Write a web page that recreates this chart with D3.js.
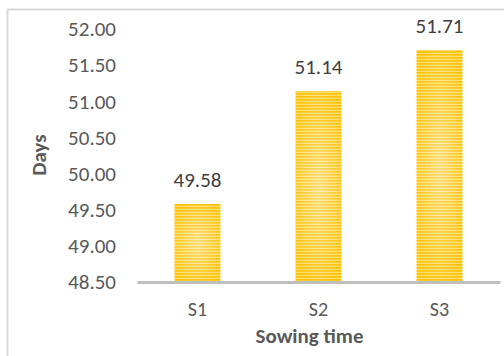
<!DOCTYPE html>
<html><head><meta charset="utf-8">
<script src="https://cdn.jsdelivr.net/npm/d3@7"></script>
<style>
html,body{margin:0;padding:0;background:#fff;}
svg{display:block;font-family:Carlito,Calibri,Lato,sans-serif;}
</style></head>
<body>
<script>
const categories = ["S1","S2","S3"];
const values = [49.58, 51.14, 51.71];
const yTicks = [48.5, 49.0, 49.5, 50.0, 50.5, 51.0, 51.5, 52.0];
const xTitle = "Sowing time";
const yTitle = "Days";

(function(){
const W = 504, H = 356;
const svg = d3.select("body").append("svg").attr("width", W).attr("height", H);

// outer border
svg.append("rect").attr("x",7.5).attr("y",9.5).attr("width",510).attr("height",360)
  .attr("fill","none").attr("stroke","#D9D9D9").attr("stroke-width",2);

const defs = svg.append("defs");
const pat = defs.append("pattern").attr("id","stripes").attr("patternUnits","userSpaceOnUse")
  .attr("width",8).attr("height",3);
pat.append("rect").attr("width",8).attr("height",3).attr("fill","#FFDE70");
pat.append("rect").attr("width",8).attr("height",1.7).attr("fill","#FFC000");
const rg = defs.append("radialGradient").attr("id","glow").attr("cx","50%").attr("cy","50%").attr("r","60%");
rg.append("stop").attr("offset","0%").attr("stop-color","#fff").attr("stop-opacity",0.45);
rg.append("stop").attr("offset","100%").attr("stop-color","#fff").attr("stop-opacity",0);

const mL = 137, mR = 500, mT = 29, mB = 282;
const x = d3.scaleBand().domain(categories).range([mL,mR]).paddingInner(0.62).paddingOuter(0.31);
const y = d3.scaleLinear().domain([48.5,52]).range([mB, mT]);

const FF = "Carlito,Calibri,Lato,sans-serif";
// y axis labels
const yAxis = d3.axisLeft(y).tickValues(yTicks).tickFormat(d3.format(".2f")).tickSize(0).tickPadding(0);
const ya = svg.append("g").attr("transform",`translate(116,0)`).call(yAxis);
ya.select(".domain").remove();
ya.selectAll("text").attr("font-size",21).attr("fill","#595959").attr("font-family",FF);

// bars
const bars = svg.append("g");
bars.selectAll("rect.bar").data(values).join("rect").attr("class","bar")
  .attr("x",(d,i)=>x(categories[i])).attr("y",d=>y(d))
  .attr("width",x.bandwidth()).attr("height",d=>mB - y(d))
  .attr("fill","url(#stripes)");
bars.selectAll("rect.glow").data(values).join("rect").attr("class","glow")
  .attr("x",(d,i)=>x(categories[i])).attr("y",d=>y(d))
  .attr("width",x.bandwidth()).attr("height",d=>mB - y(d))
  .attr("fill","url(#glow)");

// x axis
const xAxis = d3.axisBottom(x).tickSize(0).tickPadding(20);
const xa = svg.append("g").attr("transform",`translate(0,${mB})`).call(xAxis);
xa.select(".domain").attr("stroke","#BFBFBF").attr("stroke-width",3);
xa.selectAll("text").attr("font-size",20).attr("fill","#595959").attr("font-family",FF);

// value labels
svg.append("g").selectAll("text").data(values).join("text")
  .attr("x",(d,i)=>x(categories[i]) + x.bandwidth()/2)
  .attr("y",d=>y(d) - 17)
  .attr("text-anchor","middle").attr("font-size",21).attr("fill","#404040")
  .text(d=>d.toFixed(2));

// titles
svg.append("text").attr("x",(mL+mR)/2 - 9).attr("y",343).attr("text-anchor","middle")
  .attr("font-size",21).attr("font-weight","bold").attr("fill","#595959").text(xTitle);
svg.append("text").attr("transform","translate(46,155) rotate(-90)").attr("text-anchor","middle")
  .attr("font-size",21).attr("font-weight","bold").attr("fill","#595959").text(yTitle);
})();
</script>
</body></html>
